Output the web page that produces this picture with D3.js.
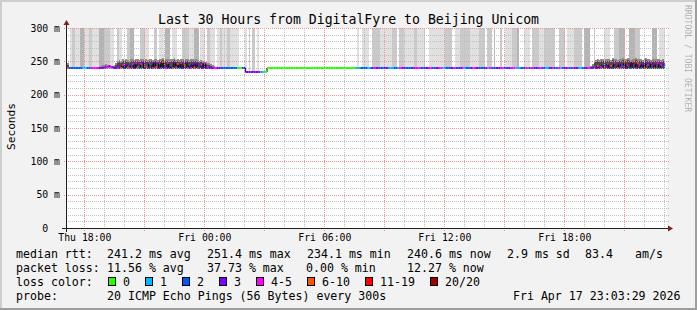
<!DOCTYPE html>
<html><head><meta charset="utf-8">
<script src="https://cdn.jsdelivr.net/npm/d3@7"></script>
<style>
html,body{margin:0;padding:0;background:#f2f2f2;}
svg{display:block;}
text{font-family:"DejaVu Sans Mono",monospace;white-space:pre;}
</style></head><body>
<svg id="chart" width="697" height="310"></svg>
<script>
// ---------------- DATA ----------------
const title = "Last 30 Hours from DigitalFyre to Beijing Unicom";
const yAxisTitle = "Seconds";
const watermark = "RRDTOOL / TOBI OETIKER";
const startTime = Date.UTC(2026, 3, 16, 17, 8);   // Thu 17:08
const spanHours = 30;
const stepMinutes = 5;

const yTicks = [0, 50, 100, 150, 200, 250, 300];                 // ms
const yTickLabels = ["  0  ", " 50 m", "100 m", "150 m", "200 m", "250 m", "300 m"];
const xTicks = ["2026-04-16T18:00:00Z", "2026-04-17T00:00:00Z", "2026-04-17T06:00:00Z", "2026-04-17T12:00:00Z", "2026-04-17T18:00:00Z"];
const xTickLabels = ["Thu 18:00", "Fri 00:00", "Fri 06:00", "Fri 12:00", "Fri 18:00"];

const lossLabels = ["0", "1", "2", "3", "4-5", "6-10", "11-19", "20/20"];
const lossColors = ["#26ff00", "#00b8ff", "#0059ff", "#7e00ff", "#ff00ff", "#ff5500", "#ff0000", "#a10000"];

// median RTT per 5-minute step (ms)
const medianRtt = [
 240,240,240,240,240,240,240,240,240,240,
 240,240,240,240,240,240,240,240,240,240,
 240,240,241,241,242,243,242,241,240,240,
 240,241,240,244,240,245,241,240,244,246,
 240,247,241,240,246,248,240,242,240,247,
 246,240,248,241,240,247,240,249,241,240,
 247,240,243,240,248,241,246,240,247,240,
 245,248,240,244,240,246,241,247,240,242,
 245,240,247,240,241,240,240,240,240,240,
 240,240,240,240,240,240,240,240,240,240,
 240,240,240,240,240,240,240,234,234,234,
 234,234,234,234,234,234,234,234,234,234,
 240,240,240,240,240,240,240,240,240,240,
 240,240,240,240,240,240,240,240,240,240,
 240,240,240,240,240,240,240,240,240,240,
 240,240,240,240,240,240,240,240,240,240,
 240,240,240,240,240,240,240,240,240,240,
 240,240,240,240,240,240,240,240,240,240,
 240,240,240,240,240,240,240,240,240,240,
 240,240,240,240,240,240,240,240,240,240,
 240,240,240,240,240,240,240,240,240,240,
 240,240,240,240,240,240,240,240,240,240,
 240,240,240,240,240,240,240,240,240,240,
 240,240,240,240,240,240,240,240,240,240,
 240,240,240,240,240,240,240,240,240,240,
 240,240,240,240,240,240,240,240,240,240,
 240,240,240,240,240,240,240,240,240,240,
 240,240,240,240,240,240,240,240,240,240,
 240,240,240,240,240,240,240,240,240,240,
 240,240,240,240,240,240,240,240,240,240,
 240,240,240,240,240,240,240,240,240,240,
 240,240,240,240,240,240,241,240,243,240,
 241,245,240,242,246,240,243,240,247,244,
 240,246,241,243,248,240,244,247,240,249,
 246,240,247,245,240,246,240,247,244,240,
 248,245,240,246,247,240,245,246,244,null
];

// loss bucket per step (index into lossColors)
const lossBucket = [
 "5222222221","1122444443","3334434333","4354235424","3452433524",
 "2435342534","4325345243","5342435342","4343433344","3322222222",
 "2200023333","3333331100","0000000000","0000000000","0000000000",
 "0000000000","0000000000","0001112222","1123433222","3321112214",
 "4332222334","4422333442","2334411222","3342233412","2234433222",
 "3314422333","4422334441","1122345244","3324422113","3422441233",
 "4224332112","3344324353","4253435243","5342534325","3454235342",
 "4353424320"
].join("");

// smoke spikes above median per step: 0 none, 1 light, 2 medium, 3 dark
const smokeShade = [
 "0012211133","1112211113","3322221100","2110002233","0000222110",
 "0022011103","3301110002","2221113330","1110221110","1121112211",
 "1110000102","0220100000","0000000000","0000000000","0000000000",
 "0000000000","0000000000","0000100111","1002222211","1111122202",
 "2211111122","1111200111","1111111222","2001112222","2211111222",
 "2022203000","2001111222","3000111102","2221112222","2220022220",
 "1111222220","3333002000","0011110022","2333300333","3222000000",
 "0333011110"
].join("");

// dense smoke band tops (ms), spans starting at a step index
const smokeBands = [
 {start: 0, top: [247]},
 {start: 18, top: [241,242,243,244,245,246,245,244,243,243,244,247,
   251,252,251,253,252,253,252,251,253,254, 252,253,254,252,253,254,252,253,252,254,
   253,252,254,253,252,254,253,255,252,253, 254,252,253,254,255,252,253,252,254,253,
   252,254,253,252,253,254,252,253,252,251, 252,250,251,249,248,247,246,245,243,242]},
 {start: 314, top: [243,246,251,252,253,252,254,253,252,254,
   253,254,252,255,254,253,252,254,253,255, 254,253,255,254,252,253,254,255,254,253,
   254,252,253,255,254,253,252,254,253,254, 253,254,252,253,252]}
];

const legendRows = [
  [["median rtt:", 16], ["241.2 ms avg", 107], ["251.4 ms max", 207], ["234.1 ms min", 307], ["240.6 ms now", 407], ["2.9 ms sd", 507], ["83.4", 585], ["am/s", 635]],
  [["packet loss:", 16], ["11.56 % avg", 107], ["37.73 % max", 207], ["0.00 % min", 306], ["12.27 % now", 407]],
  [["loss color:", 16]],
  [["probe:", 16], ["20 ICMP Echo Pings (56 Bytes) every 300s", 107]]
];
const lossSwatchX = [108, 145, 182, 219, 256, 307, 365, 430];
const timestamp = "Fri Apr 17 23:03:29 2026";

// ---------------- DRAW ----------------
const W = 697, H = 310;
const plot = {left: 67, right: 667, top: 28, bottom: 228};
const svg = d3.select("#chart");
const font = '"DejaVu Sans Mono", monospace';

const t0 = new Date(startTime), t1 = new Date(startTime + spanHours * 3600e3);
const x = d3.scaleUtc().domain([t0, t1]).range([plot.left, plot.right]);
const y = d3.scaleLinear().domain([0, 300]).range([plot.bottom, plot.top]);
const stepT = i => new Date(startTime + i * stepMinutes * 60e3);
const pr = v => Math.round(v);

// dotted-line patterns (1px on / 1px off)
const defs = svg.append("defs");
[["hGray", 2, 1, "#c0c0c0"], ["vGray", 1, 2, "#c0c0c0"], ["hRed", 2, 1, "#eb9595"], ["vRed", 1, 2, "#eb9595"]]
  .forEach(([id, w, h, c]) => {
    const p = defs.append("pattern").attr("id", id).attr("patternUnits", "userSpaceOnUse")
      .attr("x", 0).attr("y", 0).attr("width", w).attr("height", h);
    p.append("rect").attr("x", 0).attr("y", 0).attr("width", 1).attr("height", 1).attr("fill", c);
  });

// background + shaded frame
svg.append("rect").attr("width", W).attr("height", H).attr("fill", "#f2f2f2");
svg.append("rect").attr("x", 0).attr("y", 0).attr("width", W).attr("height", 2).attr("fill", "#cecece");
svg.append("rect").attr("x", 0).attr("y", 0).attr("width", 2).attr("height", H).attr("fill", "#cecece");
svg.append("rect").attr("x", 0).attr("y", H - 2).attr("width", W).attr("height", 2).attr("fill", "#9e9e9e");
svg.append("rect").attr("x", W - 2).attr("y", 0).attr("width", 2).attr("height", H).attr("fill", "#9e9e9e");

// canvas
svg.append("rect").attr("x", plot.left).attr("y", plot.top)
  .attr("width", plot.right - plot.left).attr("height", plot.bottom - plot.top).attr("fill", "#ffffff");

const data = medianRtt.map((m, i) => ({i, m, loss: +lossBucket[i] || 0, shade: +smokeShade[i] || 0}));
const valid = data.filter(d => d.m != null);

// smoke spikes
const shadeColors = [null, "#e0e0e0", "#cacaca", "#b4b4b4"];
svg.append("g").attr("shape-rendering", "crispEdges").selectAll("rect")
  .data(valid.filter(d => d.shade > 0)).join("rect")
  .attr("x", d => x(stepT(d.i)))
  .attr("width", d => x(stepT(d.i + 1)) - x(stepT(d.i)))
  .attr("y", y(300))
  .attr("height", d => y(d.m) - y(300))
  .attr("fill", d => shadeColors[d.shade]);

// dense smoke bands
const bandData = [];
smokeBands.forEach(b => b.top.forEach((t, k) => bandData.push({i: b.start + k, top: t})));
const gBand = svg.append("g").attr("shape-rendering", "crispEdges");
gBand.selectAll("rect.outer").data(bandData).join("rect").attr("class", "outer")
  .attr("x", d => x(stepT(d.i))).attr("width", d => x(stepT(d.i + 1)) - x(stepT(d.i)))
  .attr("y", d => y(d.top)).attr("height", d => Math.max(0, y(239) - y(d.top)))
  .attr("fill", "#8a8a8a");
gBand.selectAll("rect.inner").data(bandData.filter(d => d.top > 245)).join("rect").attr("class", "inner")
  .attr("x", d => x(stepT(d.i))).attr("width", d => x(stepT(d.i + 1)) - x(stepT(d.i)))
  .attr("y", d => y(d.top - 3)).attr("height", d => Math.max(0, y(239) - y(d.top - 3)))
  .attr("fill", "#4a4a4a");

// grid as 1px rects filled with dot patterns
const gGrid = svg.append("g").attr("shape-rendering", "crispEdges");
const minorY = d3.range(10, 300, 10).filter(v => v % 50 !== 0);
const hourTicks = d3.utcHour.range(t0, t1);
gGrid.selectAll("rect.my").data(minorY).join("rect")
  .attr("x", plot.left).attr("width", plot.right + 2 - plot.left)
  .attr("y", d => pr(y(d))).attr("height", 1).attr("fill", "url(#hGray)");
gGrid.selectAll("rect.mx").data(hourTicks.filter(d => d.getUTCHours() % 3 !== 0)).join("rect")
  .attr("y", plot.top).attr("height", plot.bottom - plot.top)
  .attr("x", d => pr(x(d))).attr("width", 1).attr("fill", "url(#vGray)");
gGrid.selectAll("rect.My").data(yTicks.filter(v => v > 0)).join("rect")
  .attr("x", plot.left - 4).attr("width", plot.right + 6 - plot.left)
  .attr("y", d => pr(y(d))).attr("height", 1).attr("fill", "url(#hRed)");
gGrid.selectAll("rect.Mx").data(hourTicks.filter(d => d.getUTCHours() % 3 === 0)).join("rect")
  .attr("y", plot.top).attr("height", plot.bottom + 3 - plot.top)
  .attr("x", d => pr(x(d))).attr("width", 1).attr("fill", "url(#vRed)");

// median line: black risers + colored step segments
const gMed = svg.append("g");
const risers = [];
for (let k = 1; k < valid.length; k++) {
  const a = valid[k - 1], b = valid[k];
  if (b.i === a.i + 1 && a.m !== b.m) risers.push({i: b.i, m1: a.m, m2: b.m});
}
gMed.selectAll("line.r").data(risers).join("line")
  .attr("x1", d => x(stepT(d.i))).attr("x2", d => x(stepT(d.i)))
  .attr("y1", d => y(d.m1)).attr("y2", d => y(d.m2))
  .attr("stroke", "#000").attr("stroke-width", 1);
gMed.selectAll("line.s").data(valid).join("line")
  .attr("x1", d => x(stepT(d.i))).attr("x2", d => x(stepT(d.i + 1)))
  .attr("y1", d => y(d.m)).attr("y2", d => y(d.m))
  .attr("stroke", d => lossColors[d.loss]).attr("stroke-width", 2);

// axes
const gAxis = svg.append("g").attr("shape-rendering", "crispEdges");
gAxis.append("line").attr("x1", 62).attr("x2", 670).attr("y1", plot.bottom + 0.5).attr("y2", plot.bottom + 0.5).attr("stroke", "#1f1f1f");
gAxis.append("line").attr("x1", plot.left - 0.5).attr("x2", plot.left - 0.5).attr("y1", plot.bottom + 4).attr("y2", 23).attr("stroke", "#1f1f1f");
svg.append("path").attr("d", "M668,225.5 L673,228.5 L668,231.5 Z").attr("fill", "#801f1f");
svg.append("path").attr("d", "M63.5,25 L66.5,20 L69.5,25 Z").attr("fill", "#801f1f");

// x axis labels via d3 axis
const xAxis = d3.axisBottom(x).tickValues(xTicks.map(s => new Date(s)))
  .tickFormat((d, k) => xTickLabels[k]).tickSize(0).tickPadding(0);
const gx = svg.append("g").attr("transform", `translate(0,${plot.bottom})`).call(xAxis);
gx.select(".domain").remove();
gx.selectAll("text").attr("font-family", font).attr("font-size", "9.8px").attr("fill", "#000").attr("dy", null).attr("y", 13);

// y axis labels via d3 axis
const yAxis = d3.axisLeft(y).tickValues(yTicks).tickFormat((d, k) => yTickLabels[k]).tickSize(0).tickPadding(0);
const gy = svg.append("g").attr("transform", "translate(60,0)").call(yAxis);
gy.select(".domain").remove();
gy.selectAll("text").attr("font-family", font).attr("font-size", "9.8px").attr("fill", "#000")
  .attr("dy", "0.32em").attr("x", 0).attr("text-anchor", "end").attr("xml:space", "preserve");

// title
svg.append("text").attr("x", 348.5).attr("y", 23.5).attr("text-anchor", "middle")
  .attr("font-size", "13.2px").attr("fill", "#000").text(title);

// y axis title
svg.append("text").attr("transform", "translate(15,126.5) rotate(-90)").attr("text-anchor", "middle")
  .attr("font-size", "11.2px").attr("fill", "#000").text(yAxisTitle);

// watermark
svg.append("text").attr("transform", "translate(685,5) rotate(90)")
  .attr("font-size", "8.1px").attr("fill", "#000").attr("fill-opacity", 0.3).text(watermark);

// legend
const rowBase = [258, 272, 286, 299.5];
legendRows.forEach((row, r) => {
  row.forEach(([txt, xx]) => {
    svg.append("text").attr("x", xx).attr("y", rowBase[r]).attr("font-size", "11.6px").attr("fill", "#000").text(txt);
  });
});
lossLabels.forEach((lab, k) => {
  svg.append("rect").attr("x", lossSwatchX[k] + 0.5).attr("y", 277.5).attr("width", 7).attr("height", 8)
    .attr("fill", lossColors[k]).attr("stroke", "#000").attr("shape-rendering", "crispEdges");
  svg.append("text").attr("x", lossSwatchX[k] + 15).attr("y", rowBase[2]).attr("font-size", "11.6px").attr("fill", "#000").text(lab);
});
svg.append("text").attr("x", 680.5).attr("y", rowBase[3]).attr("text-anchor", "end").attr("font-size", "11.6px").attr("fill", "#000").text(timestamp);
</script></body></html>
